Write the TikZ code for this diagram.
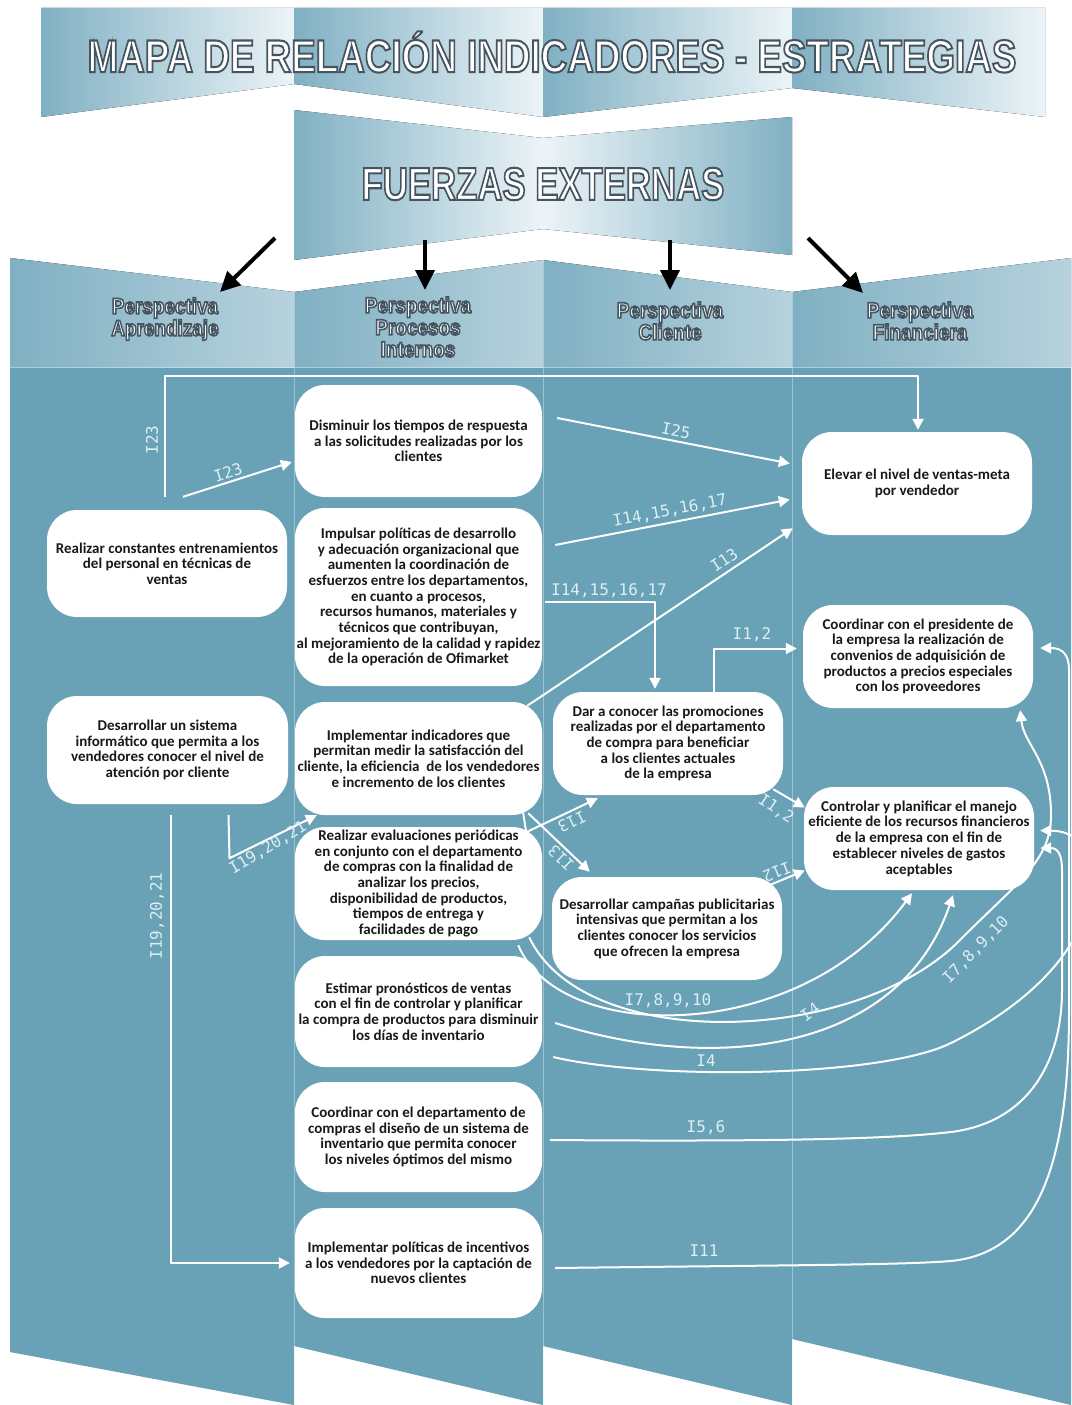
\documentclass[tikz,border=0pt]{standalone}
\usepackage{fontspec}
\setmainfont{Carlito}
\newfontfamily\ttlfont{Liberation Sans Bold}[FakeBold=4.5]
\newfontfamily\hdrfont{Liberation Sans Bold}[FakeBold=7.5]
\newfontfamily\lblfnt{DejaVu Sans Mono}
\usetikzlibrary{arrows.meta,calc}

\definecolor{teal1}{RGB}{105,161,182}
\definecolor{band}{RGB}{128,176,195}
\definecolor{bandlt}{RGB}{236,244,247}
\definecolor{lblc}{RGB}{222,238,244}
\definecolor{boxtext}{RGB}{25,25,25}

\newcommand\bxfont{\bfseries\fontsize{15}{15.7}\selectfont}
% white fill, dark stroke for the stroked (FakeBold) heading fonts
\newcommand\olt[1]{\special{pdf:bcolor [1 1 1] [0.27 0.33 0.37]}#1\special{pdf:ecolor}}

\begin{document}
\begin{tikzpicture}[x=1pt,y=-1pt,
  box/.style={fill=white, rounded corners=30pt, inner sep=0pt, align=center,
              text=boxtext, font=\bxfont},
  ttl/.style={font=\ttlfont\fontsize{46}{46}\selectfont, inner sep=0pt},
  hdr/.style={font=\hdrfont\fontsize{22}{22}\selectfont, inner sep=0pt, align=center},
  lbl/.style={font=\lblfnt\fontsize{16}{16}\selectfont, text=lblc, inner sep=0pt},
  con/.style={draw=white, line width=2pt, -{Triangle[length=11pt,width=11pt]}, line join=round},
  bk/.style={draw=black, line width=4pt, -{Triangle[length=20pt,width=19pt]}},
  fold/.style={draw=white, opacity=0.35, line width=0.8pt},
  seg/.style={left color=band, right color=bandlt}]

\useasboundingbox (0,0) rectangle (1071,1405);
\clip (0,0) rectangle (1071,1405);
\fill[white] (0,0) rectangle (1071,1405);

% title banner, folded in four
\fill[seg] (41,8) -- (294,8) -- (294,84) -- (41,117) -- cycle;
\fill[seg] (294,8) -- (543,8) -- (543,117) -- (294,84) -- cycle;
\fill[seg] (543,8) -- (792,8) -- (792,88) -- (543,117) -- cycle;
\fill[seg] (792,8) -- (1045,8) -- (1045,117) -- (792,88) -- cycle;

% external forces banner
\fill[seg] (294,110) -- (543,138) -- (543,229) -- (294,260) -- cycle;
\fill[left color=bandlt, right color=band] (543,138) -- (792,117) -- (792,255) -- (543,229) -- cycle;

% perspective headers
\fill[left color=band, middle color=bandlt, right color=band!50!bandlt] (10,258) -- (294,292) -- (294,368) -- (10,368) -- cycle;
\fill[left color=band, middle color=bandlt, right color=band!50!bandlt] (294,292) -- (543,260) -- (543,368) -- (294,368) -- cycle;
\fill[left color=band, middle color=bandlt, right color=band!50!bandlt] (543,260) -- (792,292) -- (792,368) -- (543,368) -- cycle;
\fill[left color=band, middle color=bandlt, right color=band!50!bandlt] (792,292) -- (1071,258) -- (1071,368) -- (792,368) -- cycle;

% body columns
\fill[teal1] (10,368) -- (294,368) -- (294,1405) -- (10,1352) -- cycle;
\fill[teal1] (294,368) -- (543,368) -- (543,1405) -- (294,1346) -- cycle;
\fill[teal1] (543,368) -- (792,368) -- (792,1405) -- (543,1346) -- cycle;
\fill[teal1] (792,368) -- (1071,368) -- (1071,1405) -- (792,1339) -- cycle;
\draw[fold] (10,367) -- (1071,367);
\draw[fold] (294,292) -- (294,1405);
\draw[fold] (543,260) -- (543,1405);
\draw[fold] (792,292) -- (792,1405);

% headings
\node[ttl] (title) at (552,52) {\scalebox{0.80}[1]{\olt{MAPA DE RELACIÓN INDICADORES - ESTRATEGIAS}}};
\node[ttl] (fuerzas) at (543,184) {\scalebox{0.755}[1]{\olt{FUERZAS EXTERNAS}}};

\node[hdr] (h1) at (165,319) {\scalebox{0.86}[1]{\olt{Perspectiva}}\\\scalebox{0.86}[1]{\olt{Aprendizaje}}};
\node[hdr] (h2) at (418,327) {\scalebox{0.86}[1]{\olt{Perspectiva}}\\\scalebox{0.86}[1]{\olt{Procesos}}\\\scalebox{0.86}[1]{\olt{Internos}}};
\node[hdr] (h3) at (670,321) {\scalebox{0.86}[1]{\olt{Perspectiva}}\\\scalebox{0.86}[1]{\olt{Cliente}}};
\node[hdr] (h4) at (920,321) {\scalebox{0.86}[1]{\olt{Perspectiva}}\\\scalebox{0.86}[1]{\olt{Financiera}}};

% forces acting on each perspective
\coordinate (b1s) at (275,238); \coordinate (b1e) at (220,292);
\coordinate (b2s) at (425,240); \coordinate (b2e) at (425,290);
\coordinate (b3s) at (670,240); \coordinate (b3e) at (670,290);
\coordinate (b4s) at (808,238); \coordinate (b4e) at (863,293);
\draw[bk] (b1s) -- (b1e);
\draw[bk] (b2s) -- (b2e);
\draw[bk] (b3s) -- (b3e);
\draw[bk] (b4s) -- (b4e);

% strategies: learning
\node[box, minimum width=240pt, minimum height=107pt] (A1) at (167,563.5)
  {Realizar constantes entrenamientos\\del personal en técnicas de\\ventas};
\node[box, minimum width=241pt, minimum height=108pt] (A2) at (167.5,750)
  {Desarrollar un sistema\\informático que permita a los\\vendedores conocer el nivel de\\atención por cliente};

% strategies: internal processes
\node[box, minimum width=247pt, minimum height=112pt] (P1) at (418.5,441)
  {Disminuir los tiempos de respuesta\\a las solicitudes realizadas por los\\clientes};
\node[box, minimum width=247pt, minimum height=178pt] (P2) at (418.5,597)
  {Impulsar políticas de desarrollo\\y adecuación organizacional que\\aumenten la coordinación de\\esfuerzos entre los departamentos,\\en cuanto a procesos,\\recursos humanos, materiales y\\técnicos que contribuyan,\\al mejoramiento de la calidad y rapidez\\de la operación de Ofimarket};
\node[box, minimum width=247pt, minimum height=113pt] (P3) at (418.5,758.5)
  {Implementar indicadores que\\permitan medir la satisfacción del\\cliente, la eficiencia\ \ de los vendedores\\e incremento de los clientes};
\node[box, minimum width=247pt, minimum height=113pt] (P4) at (418.5,883.5)
  {Realizar evaluaciones periódicas\\en conjunto con el departamento\\de compras con la finalidad de\\analizar los precios,\\disponibilidad de productos,\\tiempos de entrega y\\facilidades de pago};
\node[box, minimum width=247pt, minimum height=111pt] (P5) at (418.5,1011.5)
  {Estimar pronósticos de ventas\\con el fin de controlar y planificar\\la compra de productos para disminuir\\los días de inventario};
\node[box, minimum width=247pt, minimum height=110pt] (P6) at (418.5,1137)
  {Coordinar con el departamento de\\compras el diseño de un sistema de\\inventario que permita conocer\\los niveles óptimos del mismo};
\node[box, minimum width=247pt, minimum height=110pt] (P7) at (418.5,1263)
  {Implementar políticas de incentivos\\a los vendedores por la captación de\\nuevos clientes};

% strategies: customer
\node[box, minimum width=230pt, minimum height=103pt] (C1) at (668,743.5)
  {Dar a conocer las promociones\\realizadas por el departamento\\de compra para beneficiar\\a los clientes actuales\\de la empresa};
\node[box, minimum width=230pt, minimum height=103pt] (C2) at (667,928.5)
  {Desarrollar campañas publicitarias\\intensivas que permitan a los\\clientes conocer los servicios\\que ofrecen la empresa};

% strategies: financial
\node[box, minimum width=230pt, minimum height=103pt] (F1) at (917,483.5)
  {Elevar el nivel de ventas-meta\\por vendedor};
\node[box, minimum width=230pt, minimum height=103pt] (F2) at (918,656.5)
  {Coordinar con el presidente de\\la empresa la realización de\\convenios de adquisición de\\productos a precios especiales\\con los proveedores};
\node[box, minimum width=230pt, minimum height=103pt] (F3) at (919,838.5)
  {Controlar y planificar el manejo\\eficiente de los recursos financieros\\de la empresa con el fin de\\establecer niveles de gastos\\aceptables};

% indicator links, straight
\draw[con] ($(A1.north)+(-2,-13)$) |- ($(F1.north)+(1,-56)$) -- ($(F1.north)+(1,-2)$);
\node[lbl, rotate=90] (l1) at (152,440) {I23};
\draw[con] ($(A1.north)+(16,-13)$) -- ($(P1.west)+(-3,21)$);
\node[lbl, rotate=18] (l2) at (228,472) {I23};
\draw[con] ($(P1.east)+(15,-23)$) -- ($(F1.west)+(-12,-20)$);
\node[lbl, rotate=-11] (l3) at (676,431) {I25};
\draw[con] ($(P2.east)+(13,-52)$) -- ($(F1.west)+(-12,16)$);
\node[lbl, rotate=11] (l4) at (670,511) {I14,15,16,17};
\draw[con] ($(P3.north east)+(-15,4)$) -- ($(F1.south west)+(-9,-7)$);
\node[lbl, rotate=34] (l5) at (724,560) {I13};
\draw[con] ($(P2.east)+(3,5)$) -| ($(C1.north)+(-13,-3)$);
\node[lbl] (l6) at (609,591) {I14,15,16,17};
\draw[con] ($(C1.north)+(46,0)$) |- ($(F2.west)+(-6,-8)$);
\node[lbl] (l7) at (752,635) {I1,2};
\draw[con] ($(C1.south east)+(-10,-6)$) -- ($(F3.west)+(1,-31)$);
\node[lbl, rotate=-33] (l8) at (776,809) {I1,2};
\draw[con] ($(P3.south east)+(-19,-2)$) -- ($(P3.south east)+(-16,17)$) -- ($(C1.south west)+(45,3)$);
\node[lbl, rotate=205] (l9) at (572,822) {I13};
\draw[con] ($(P3.south east)+(-14,-2)$) -- ($(C2.north west)+(38,-5)$);
\node[lbl, rotate=136] (l10) at (561,858) {I13};
\draw[con] ($(C2.north east)+(-12,8)$) -- ($(F3.west)+(1,32)$);
\node[lbl, rotate=202] (l11) at (777,872) {I12};
\draw[con] ($(A2.south)+(61,11)$) -- ($(A2.south)+(62,54)$) -- ($(P3.south west)+(22,0)$);
\node[lbl, rotate=31] (l12) at (268,848) {I19,20,21};
\draw[con] ($(A2.south)+(3,11)$) |- ($(P7.west)+(-5,0)$);
\node[lbl, rotate=90] (l13) at (157,916) {I19,20,21};

% indicator links, curved
\draw[con] ($(P4.south east)+(-24,5)$) .. controls (560,1045) and (800,1045) .. ($(F3.south)+(-7,3)$);
\node[lbl] (l14) at (668,1001) {I7,8,9,10};
\draw[con] ($(P4.south east)+(-13,-3)$) .. controls (585,1055) and (860,1045) .. (962,938)
  .. controls (1020,880) and (1051,860) .. (1051,815)
  .. controls (1051,760) and (1024,745) .. ($(F2.south east)+(-13,2)$);
\node[lbl, rotate=46] (l15) at (976,950) {I7,8,9,10};
\draw[con] ($(P5.east)+(13,11.5)$) .. controls (720,1075) and (900,1050) .. ($(F3.south)+(34,5)$);
\node[lbl, rotate=35] (l16) at (810,1012) {I4};
\draw[con] ($(P5.east)+(11,45.5)$) .. controls (650,1080) and (880,1078) .. (951,1043)
  .. controls (1022,1008) and (1090,950) .. (1090,880)
  .. controls (1090,845) and (1075,831) .. ($(F3.east)+(6,-8)$);
\node[lbl] (l17) at (706,1061) {I4};
\draw[con] ($(P6.east)+(8,3)$) .. controls (800,1142) and (900,1138) .. (951,1132)
  .. controls (1030,1122) and (1062,1060) .. (1062,990) -- (1062,870)
  .. controls (1062,855) and (1058,848) .. ($(F3.east)+(6,9.5)$);
\node[lbl] (l18) at (706,1128) {I5,6};
\draw[con] ($(P7.east)+(13,5)$) .. controls (800,1265) and (900,1265) .. (951,1261)
  .. controls (1040,1252) and (1069,1160) .. (1069,1010) -- (1069,670)
  .. controls (1069,655) and (1063,648) .. ($(F2.east)+(7,-8.5)$);
\node[lbl] (l19) at (704,1251) {I11};

\end{tikzpicture}
\end{document}
